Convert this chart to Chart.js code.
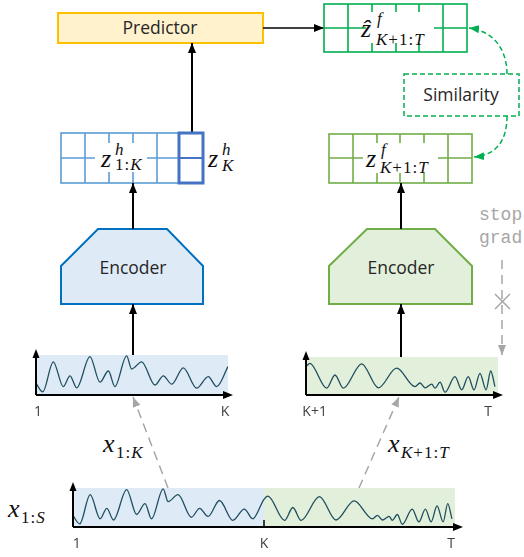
<!DOCTYPE html>
<html>
<head>
<meta charset="utf-8">
<script src="https://cdn.jsdelivr.net/npm/chart.js@4/dist/chart.umd.min.js"></script>
<style>
html, body { margin: 0; padding: 0; background: #fff; }
#stage { position: relative; width: 524px; height: 557px; overflow: hidden; }
#diagram { position: absolute; left: 0; top: 0; }
.wave { position: absolute; }
.lbl { font-family: "Open Sans", sans-serif; font-size: 17.5px; fill: #262626; }
.mi { font-family: "Liberation Serif", serif; font-style: italic; font-size: 26px; fill: #111; }
.ms { font-family: "Liberation Serif", serif; font-size: 17px; letter-spacing: 1px; fill: #111; }
.it { font-style: italic; }
.mono { font-family: "Liberation Mono", monospace; font-size: 18px; fill: #a6a6a6; }
</style>
</head>
<body>
<div id="stage">
<svg id="diagram" width="524" height="557">
  <defs>
    <marker id="ah" viewBox="0 0 10 8" refX="10" refY="4" markerWidth="10" markerHeight="8" markerUnits="userSpaceOnUse" orient="auto">
      <path d="M0,0 L10,4 L0,8 z" fill="#000"/>
    </marker>
    <marker id="ahGray" viewBox="0 0 10 8" refX="10" refY="4" markerWidth="10" markerHeight="8" markerUnits="userSpaceOnUse" orient="auto">
      <path d="M0,0 L10,4 L0,8 z" fill="#a6a6a6"/>
    </marker>
    <marker id="ahGreen" viewBox="0 0 10 8" refX="10" refY="4" markerWidth="10" markerHeight="8" markerUnits="userSpaceOnUse" orient="auto">
      <path d="M0,0 L10,4 L0,8 z" fill="#00b050"/>
    </marker>
  </defs>

  <!-- predictor -->
  <rect x="58" y="13" width="205" height="30" fill="#fff2cc" stroke="#ffc000" stroke-width="2"/>
  <text class="lbl" x="160" y="34" text-anchor="middle">Predictor</text>
  <line x1="263" y1="28" x2="324" y2="28" stroke="#000" stroke-width="1.6" marker-end="url(#ah)"/>
  <line x1="192" y1="133" x2="192" y2="43" stroke="#000" stroke-width="2" marker-end="url(#ah)"/>

  <!-- predicted future embedding -->
  <g stroke="#00b050" stroke-width="1.6" fill="none">
    <rect x="324" y="4" width="143" height="48" fill="#fff"/>
    <line x1="348" y1="4" x2="348" y2="52"/>
    <line x1="372" y1="4" x2="372" y2="52"/>
    <line x1="396" y1="4" x2="396" y2="52"/>
    <line x1="419" y1="4" x2="419" y2="52"/>
    <line x1="443" y1="4" x2="443" y2="52"/>
    <line x1="324" y1="28" x2="467" y2="28"/>
  </g>
  <rect x="366" y="12" width="68" height="31" fill="#fff"/>
  <text class="mi" x="361" y="37">ẑ</text>
  <text class="ms it" x="377" y="24">f</text>
  <text class="ms" x="376" y="45"><tspan class="it">K</tspan>+1:<tspan class="it">T</tspan></text>

  <!-- similarity -->
  <rect x="404" y="74" width="115" height="42" fill="#fff" stroke="#00b050" stroke-width="1.5" stroke-dasharray="5,3"/>
  <text class="lbl" x="461" y="101" text-anchor="middle">Similarity</text>
  <path d="M507,74 C507,50 494,31 469,28" fill="none" stroke="#00b050" stroke-width="1.5" stroke-dasharray="5,3" marker-end="url(#ahGreen)"/>
  <path d="M507,116 C507,140 497,155 474,157" fill="none" stroke="#00b050" stroke-width="1.5" stroke-dasharray="5,3" marker-end="url(#ahGreen)"/>

  <!-- history embedding -->
  <g stroke="#5b9bd5" stroke-width="1.6" fill="none">
    <rect x="61" y="133" width="118" height="50" fill="#fff"/>
    <line x1="85" y1="133" x2="85" y2="183"/>
    <line x1="109" y1="133" x2="109" y2="183"/>
    <line x1="133" y1="133" x2="133" y2="183"/>
    <line x1="157" y1="133" x2="157" y2="183"/>
    <line x1="61" y1="158" x2="179" y2="158"/>
  </g>
  <rect x="95" y="143" width="52" height="29" fill="#fff"/>
  <text class="mi" x="101" y="167">z</text>
  <text class="ms it" x="115" y="155">h</text>
  <text class="ms" x="115" y="170">1:<tspan class="it">K</tspan></text>
  <g stroke="#4472c4" stroke-width="3" fill="none">
    <rect x="179" y="133" width="24" height="50"/>
    <line x1="179" y1="158" x2="203" y2="158" stroke-width="2"/>
  </g>
  <text class="mi" x="208" y="167">z</text>
  <text class="ms it" x="222" y="155">h</text>
  <text class="ms it" x="222" y="171">K</text>

  <!-- future embedding -->
  <g stroke="#70ad47" stroke-width="1.6" fill="none">
    <rect x="329" y="134" width="143" height="49" fill="#fff"/>
    <line x1="353" y1="134" x2="353" y2="183"/>
    <line x1="377" y1="134" x2="377" y2="183"/>
    <line x1="400" y1="134" x2="400" y2="183"/>
    <line x1="424" y1="134" x2="424" y2="183"/>
    <line x1="448" y1="134" x2="448" y2="183"/>
    <line x1="329" y1="158" x2="472" y2="158"/>
  </g>
  <rect x="363" y="143" width="75" height="30" fill="#fff"/>
  <text class="mi" x="366" y="167">z</text>
  <text class="ms it" x="381" y="155">f</text>
  <text class="ms" x="380" y="173"><tspan class="it">K</tspan>+1:<tspan class="it">T</tspan></text>

  <!-- encoders -->
  <polygon points="98,229 167,229 203,266 203,304 61,304 61,266" fill="#deebf7" stroke="#0070c0" stroke-width="2"/>
  <text class="lbl" x="133" y="274" text-anchor="middle">Encoder</text>
  <polygon points="367,229 435,229 472,266 472,304 329,304 329,266" fill="#e2efda" stroke="#70ad47" stroke-width="2"/>
  <text class="lbl" x="401" y="274" text-anchor="middle">Encoder</text>

  <g stroke="#000" stroke-width="2">
    <line x1="133" y1="355" x2="133" y2="304" marker-end="url(#ah)"/>
    <line x1="133" y1="229" x2="133" y2="183" marker-end="url(#ah)"/>
    <line x1="401" y1="357" x2="401" y2="304" marker-end="url(#ah)"/>
    <line x1="401" y1="229" x2="401" y2="183" marker-end="url(#ah)"/>
  </g>

  <!-- stop grad -->
  <text class="mono" x="479" y="220">stop</text>
  <text class="mono" x="479" y="243">grad</text>
  <line x1="502" y1="260" x2="502" y2="355" stroke="#a6a6a6" stroke-width="1.5" stroke-dasharray="9,6" marker-end="url(#ahGray)"/>
  <g stroke="#a6a6a6" stroke-width="1.5">
    <line x1="495" y1="294" x2="510" y2="309"/>
    <line x1="510" y1="294" x2="495" y2="309"/>
  </g>

  <!-- crops -->
  <line x1="168" y1="488" x2="133" y2="397" stroke="#a6a6a6" stroke-width="1.5" stroke-dasharray="9,6" marker-end="url(#ahGray)"/>
  <line x1="359" y1="488" x2="399" y2="397" stroke="#a6a6a6" stroke-width="1.5" stroke-dasharray="9,6" marker-end="url(#ahGray)"/>
  <text class="mi" x="103" y="452">x</text>
  <text class="ms" x="116" y="458">1:<tspan class="it">K</tspan></text>
  <text class="mi" x="388" y="452">x</text>
  <text class="ms" x="401" y="458"><tspan class="it">K</tspan>+1:<tspan class="it">T</tspan></text>
  <text class="mi" x="8" y="517">x</text>
  <text class="ms" x="21" y="523">1:<tspan class="it">S</tspan></text>
</svg>
<canvas id="leftWave" class="wave" style="left:30px;top:347px" width="208" height="74"></canvas>
<canvas id="rightWave" class="wave" style="left:300px;top:349px" width="208" height="72"></canvas>
<canvas id="fullWave" class="wave" style="left:67px;top:480px" width="398" height="73"></canvas>
</div>

<script>
// time index of each turning point (0..100 = history 1..K, 100..200 = future K+1..T)
const timeSteps = [0, 3.5, 9, 14.2, 17.7, 21.2, 28.1, 33.3, 37.7, 41.1,
    47.2, 49.8, 55, 62, 66.3, 70.7, 76.7, 83.7, 89.7, 94.1,
    100,
    102, 110.8, 115.1, 119.4, 129, 137.7, 147.2, 156.8, 159.4, 162,
    165.5, 167.2, 169.8, 172.4, 177.6, 181.1, 184.5, 187.5, 190.6, 193.8,
    196.2, 198.4];
const signal = [0.29, 0.08, 0.83, 0.21, 0.48, 0.18, 0.96, 0.32, 0.6, 0.21,
    0.98, 0.65, 0.83, 0.25, 0.48, 0.27, 0.68, 0.17, 0.46, 0.21,
    0.71,
    0.79, 0.17, 0.5, 0.17, 0.78, 0.18, 0.67, 0.21, 0.3, 0.18,
    0.27, 0.17, 0.32, 0.07, 0.46, 0.13, 0.46, 0.13, 0.54, 0.13,
    0.6, 0.21];

const splitAt = 100;
const seriesEnd = 200;

const leftTickLabels = ['1', 'K'];
const leftTickPos = [1, 98.4];
const rightTickLabels = ['K+1', 'T'];
const rightTickPos = [104.5, 194.8];
const fullTickLabels = ['1', 'K', 'T'];
const fullTickPos = [2, 100, 198];

const histColor = '#deebf7';
const futColor = '#e2efda';
const lineColor = '#1f4e5f';

// background bands, axis arrows and tick labels drawn through the chart's own scales
const sketchAxes = {
    id: 'sketchAxes',
    beforeDatasetsDraw(chart, args, opts) {
        let ctx = chart.ctx, a = chart.chartArea, x = chart.scales.x;
        opts.bands.forEach(b => {
            let x0 = x.getPixelForValue(b.from), x1 = x.getPixelForValue(b.to);
            ctx.fillStyle = b.color;
            ctx.fillRect(x0, a.top, x1 - x0, a.bottom - a.top);
        });
    },
    afterDatasetsDraw(chart, args, opts) {
        let ctx = chart.ctx, a = chart.chartArea, x = chart.scales.x;
        ctx.save();
        ctx.strokeStyle = '#000';
        ctx.fillStyle = '#000';
        ctx.lineWidth = 2;
        ctx.beginPath();
        ctx.moveTo(a.left, a.bottom);
        ctx.lineTo(a.left, a.top - 2);
        ctx.moveTo(a.left, a.bottom);
        ctx.lineTo(a.right + opts.reach - 4, a.bottom);
        ctx.stroke();
        // arrow heads
        ctx.beginPath();
        ctx.moveTo(a.left, a.top - 6);
        ctx.lineTo(a.left - 3.5, a.top + 3);
        ctx.lineTo(a.left + 3.5, a.top + 3);
        ctx.closePath();
        ctx.fill();
        let tip = a.right + opts.reach;
        ctx.beginPath();
        ctx.moveTo(tip, a.bottom);
        ctx.lineTo(tip - 10, a.bottom - 4);
        ctx.lineTo(tip - 10, a.bottom + 4);
        ctx.closePath();
        ctx.fill();
        if (opts.split != null) {
            let sx = x.getPixelForValue(opts.split);
            ctx.lineWidth = 1.5;
            ctx.beginPath();
            ctx.moveTo(sx, a.bottom - 7);
            ctx.lineTo(sx, a.bottom);
            ctx.stroke();
        }
        ctx.font = '14px "Open Sans", sans-serif';
        ctx.fillStyle = '#404040';
        ctx.textAlign = 'center';
        ctx.textBaseline = 'middle';
        opts.tickPos.forEach((v, i) => {
            ctx.fillText(opts.tickLabels[i], x.getPixelForValue(v), a.bottom + 17);
        });
        ctx.restore();
    }
};

function makeWave(id, from, to, yMax, bands, split, reach, tickPos, tickLabels) {
    let pts = [];
    timeSteps.forEach((t, i) => {
        if (t >= from && t <= to) pts.push({x: t, y: signal[i]});
    });
    return new Chart(document.getElementById(id), {
        type: 'line',
        data: {
            datasets: [{
                data: pts,
                borderColor: lineColor,
                borderWidth: 1.3,
                pointRadius: 0,
                cubicInterpolationMode: 'monotone',
                fill: false
            }]
        },
        options: {
            responsive: false,
            animation: false,
            events: [],
            layout: {padding: {top: 8, right: 10, bottom: 26, left: 6}},
            scales: {
                x: {type: 'linear', min: from, max: to, display: false},
                y: {min: 0, max: yMax, display: false}
            },
            plugins: {
                legend: {display: false},
                tooltip: {enabled: false},
                sketchAxes: {bands: bands, split: split, reach: reach, tickPos: tickPos, tickLabels: tickLabels}
            }
        },
        plugins: [sketchAxes]
    });
}

makeWave('leftWave', 0, splitAt, 1, [{from: 0, to: splitAt, color: histColor}], null, 5, leftTickPos, leftTickLabels);
makeWave('rightWave', splitAt, seriesEnd, 0.95, [{from: splitAt, to: seriesEnd, color: futColor}], null, 5, rightTickPos, rightTickLabels);
makeWave('fullWave', 0, seriesEnd, 1,
    [{from: 0, to: splitAt, color: histColor}, {from: splitAt, to: seriesEnd, color: futColor}],
    splitAt, 8, fullTickPos, fullTickLabels);
</script>
</body>
</html>
